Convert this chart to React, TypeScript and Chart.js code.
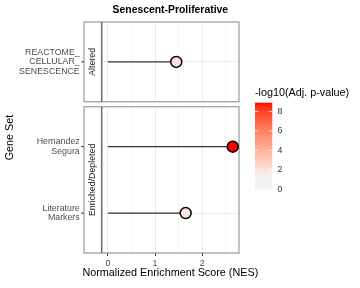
import React, { useEffect, useRef } from 'react';
import { Chart, registerables } from 'chart.js';

Chart.register(...registerables);

// ---------------- data ----------------
const chartTitle = 'Senescent-Proliferative';
const geneSets = ['REACTOME_CELLULAR_SENESCENCE', 'Hernandez Segura', 'Literature Markers'];
const geneSetLines = [['REACTOME_', 'CELLULAR_', 'SENESCENCE'], ['Hernandez', 'Segura'], ['Literature', 'Markers']];
const geneSetGroups = ['Altered', 'Enriched/Depleted', 'Enriched/Depleted'];
const nesValues = [1.45, 2.65, 1.65];
const negLog10AdjP = [2.0, 8.9, 1.8];
const xMajorTicks = [0, 1, 2];
const xMinorTicks = [0.5, 1.5, 2.5];
const legendTicks = [0, 2, 4, 6, 8];
const legendLimits = [0, 8.9];
const xTitle = 'Normalized Enrichment Score (NES)';
const yTitle = 'Gene Set';
const legendTitle = '-log10(Adj. p-value)';

// ---------------- scale settings ----------------
const FONT = '"Liberation Sans", Arial, Helvetica, sans-serif';
const COLOR_LOW = '#F2F2F2';
const COLOR_HIGH = '#FF0000';
const COLOR_MID_VALUE = 1.3;
const PANEL_GAP = 0.075;
const DISCRETE_EXPAND = 0.6;

// colour helpers (Lab interpolation like ggplot)
function hexToRgb(h: string) {
  const n = parseInt(h.slice(1), 16);
  return [(n >> 16) & 255, (n >> 8) & 255, n & 255];
}
function toLin(c: number) {
  c /= 255;
  return c <= 0.04045 ? c / 12.92 : Math.pow((c + 0.055) / 1.055, 2.4);
}
function fromLin(c: number) {
  const v = c <= 0.0031308 ? 12.92 * c : 1.055 * Math.pow(Math.max(c, 0), 1 / 2.4) - 0.055;
  return Math.round(Math.max(0, Math.min(1, v)) * 255);
}
function rgbToLab(rgb: number[]) {
  const R = toLin(rgb[0]), G = toLin(rgb[1]), B = toLin(rgb[2]);
  const X = (0.4124 * R + 0.3576 * G + 0.1805 * B) / 0.95047;
  const Y = 0.2126 * R + 0.7152 * G + 0.0722 * B;
  const Z = (0.0193 * R + 0.1192 * G + 0.9505 * B) / 1.08883;
  const f = (t: number) => (t > 0.008856 ? Math.cbrt(t) : 7.787 * t + 16 / 116);
  const fx = f(X), fy = f(Y), fz = f(Z);
  return [116 * fy - 16, 500 * (fx - fy), 200 * (fy - fz)];
}
function labToRgb(lab: number[]) {
  const fy = (lab[0] + 16) / 116, fx = fy + lab[1] / 500, fz = fy - lab[2] / 200;
  const inv = (t: number) => (t * t * t > 0.008856 ? t * t * t : (t - 16 / 116) / 7.787);
  const X = inv(fx) * 0.95047, Y = inv(fy), Z = inv(fz) * 1.08883;
  const R = 3.2406 * X - 1.5372 * Y - 0.4986 * Z;
  const G = -0.9689 * X + 1.8758 * Y + 0.0415 * Z;
  const B = 0.0557 * X - 0.204 * Y + 1.057 * Z;
  return [fromLin(R), fromLin(G), fromLin(B)];
}
const LAB_LOW = rgbToLab(hexToRgb(COLOR_LOW));
const LAB_HIGH = rgbToLab(hexToRgb(COLOR_HIGH));
function colorFor(v: number) {
  const t = Math.max(0, Math.min(1, (v - COLOR_MID_VALUE) / (legendLimits[1] - COLOR_MID_VALUE)));
  const lab = LAB_LOW.map((l, i) => l + (LAB_HIGH[i] - l) * t);
  const c = labToRgb(lab);
  return `rgb(${c[0]},${c[1]},${c[2]})`;
}

// ---------------- facet layout (in data units) ----------------
const groupsOrdered = geneSetGroups.filter((g, i, a) => a.indexOf(g) === i);
const panelSizes = groupsOrdered.map(
  (g) => geneSetGroups.filter((x) => x === g).length - 1 + 2 * DISCRETE_EXPAND
);
const yMax = panelSizes.reduce((a, b) => a + b, 0) + PANEL_GAP * (groupsOrdered.length - 1);
const yPos: number[] = new Array(geneSets.length).fill(0);
const panels: { group: string; top: number; bottom: number }[] = [];
{
  let cursor = yMax;
  groupsOrdered.forEach((g, p) => {
    const top = cursor;
    const bottom = top - panelSizes[p];
    let k = 0;
    geneSetGroups.forEach((gg, i) => {
      if (gg === g) {
        yPos[i] = top - DISCRETE_EXPAND - k;
        k++;
      }
    });
    panels.push({ group: g, top, bottom });
    cursor = bottom - PANEL_GAP;
  });
}
const xLo = Math.min(0, ...nesValues);
const xHi = Math.max(0, ...nesValues);
const xPad = (xHi - xLo) * 0.05;
const xGrid = [...xMajorTicks, ...xMinorTicks].sort((a, b) => a - b);
const isMajor = (v: number) => xMajorTicks.some((m) => Math.abs(m - v) < 1e-9);

// ---------------- decorations plugin ----------------
const STRIP_W = 17.7;
const decor = {
  id: 'decor',
  beforeDatasetsDraw(chart: any) {
    const { ctx, chartArea: ca, scales } = chart;
    const y = scales.y;
    const stripLeft = ca.left - STRIP_W;
    ctx.save();
    for (let p = 0; p < panels.length - 1; p++) {
      const yb = y.getPixelForValue(panels[p].bottom);
      const yt = y.getPixelForValue(panels[p + 1].top);
      ctx.fillStyle = '#FFFFFF';
      ctx.fillRect(stripLeft - 2, yb, ca.right - stripLeft + 4, yt - yb);
    }
    panels.forEach((pn) => {
      const t = y.getPixelForValue(pn.top);
      const b = y.getPixelForValue(pn.bottom);
      ctx.strokeStyle = '#9A9A9A';
      ctx.lineWidth = 1.2;
      ctx.strokeRect(stripLeft, t, ca.right - stripLeft, b - t);
      ctx.strokeStyle = '#707070';
      ctx.lineWidth = 1.6;
      ctx.beginPath();
      ctx.moveTo(ca.left, t);
      ctx.lineTo(ca.left, b);
      ctx.stroke();
      ctx.save();
      ctx.translate((stripLeft + ca.left) / 2, (t + b) / 2);
      ctx.rotate(-Math.PI / 2);
      ctx.font = `8.8px ${FONT}`;
      ctx.fillStyle = '#1A1A1A';
      ctx.textAlign = 'center';
      ctx.textBaseline = 'middle';
      ctx.fillText(pn.group, 0, 0);
      ctx.restore();
    });
    ctx.strokeStyle = '#333333';
    ctx.lineWidth = 1;
    yPos.forEach((v) => {
      const py = y.getPixelForValue(v);
      ctx.beginPath();
      ctx.moveTo(stripLeft - 2.8, py);
      ctx.lineTo(stripLeft, py);
      ctx.stroke();
    });
    ctx.restore();
  },
  afterDraw(chart: any) {
    const { ctx, chartArea: ca } = chart;
    ctx.save();
    // plot title
    ctx.font = `bold 10.4px ${FONT}`;
    ctx.fillStyle = '#000000';
    ctx.textAlign = 'center';
    ctx.textBaseline = 'middle';
    ctx.fillText(chartTitle, (ca.left + ca.right) / 2, 10);

    // x axis title (drawn here so it is not squeezed to the plot width)
    ctx.font = `10.8px ${FONT}`;
    ctx.fillText(xTitle, (ca.left + ca.right) / 2, ca.bottom + 20.5);

    // colour bar legend
    const lx = ca.right + 16;
    const lw = 17.3;
    const ltop = 102.7;
    const lbot = 189.3;
    const [lo, hi] = legendLimits;
    const vy = (v: number) => lbot - ((v - lo) / (hi - lo)) * (lbot - ltop);
    const grad = ctx.createLinearGradient(0, lbot, 0, ltop);
    const N = 60;
    for (let i = 0; i <= N; i++) {
      grad.addColorStop(i / N, colorFor(lo + (i / N) * (hi - lo)));
    }
    ctx.fillStyle = grad;
    ctx.fillRect(lx, ltop, lw, lbot - ltop);
    ctx.strokeStyle = 'rgba(255,255,255,0.9)';
    ctx.lineWidth = 0.8;
    legendTicks.forEach((t) => {
      const py = vy(t);
      ctx.beginPath();
      ctx.moveTo(lx, py);
      ctx.lineTo(lx + 3.5, py);
      ctx.moveTo(lx + lw - 3.5, py);
      ctx.lineTo(lx + lw, py);
      ctx.stroke();
    });
    ctx.font = `8.8px ${FONT}`;
    ctx.fillStyle = '#333333';
    ctx.textAlign = 'left';
    ctx.textBaseline = 'middle';
    legendTicks.forEach((t) => ctx.fillText(String(t), lx + lw + 5.3, vy(t)));
    ctx.font = `10.8px ${FONT}`;
    ctx.fillStyle = '#000000';
    ctx.fillText(legendTitle, lx, 93.5);
    ctx.restore();
  },
};

export default function App() {
  const ref = useRef<HTMLCanvasElement | null>(null);
  useEffect(() => {
    if (!ref.current) return;
    const segmentSets = geneSets.map((name, i) => ({
      type: 'line' as const,
      label: name,
      data: [
        { x: 0, y: yPos[i] },
        { x: nesValues[i], y: yPos[i] },
      ],
      borderColor: '#333333',
      borderWidth: 1.3,
      pointRadius: 0,
      clip: false as any,
      order: 2,
    }));
    const chart = new Chart(ref.current, {
      type: 'scatter',
      data: {
        datasets: [
          ...segmentSets,
          {
            type: 'scatter' as const,
            label: 'NES',
            data: nesValues.map((v, i) => ({ x: v, y: yPos[i] })),
            pointBackgroundColor: negLog10AdjP.map(colorFor),
            pointBorderColor: '#000000',
            pointBorderWidth: 1.5,
            pointRadius: 5.5,
            clip: false as any,
            order: 1,
          },
        ] as any,
      },
      options: {
        animation: false,
        responsive: false,
        devicePixelRatio: 1,
        layout: { padding: { left: 0, right: 121, top: 22, bottom: 0 } },
        plugins: { legend: { display: false }, tooltip: { enabled: false }, title: { display: false } },
        scales: {
          x: {
            type: 'linear',
            min: xLo - xPad,
            max: xHi + xPad,
            afterBuildTicks: (s: any) => {
              s.ticks = xGrid.map((v) => ({ value: v }));
            },
            afterFit: (s: any) => {
              s.height = 35;
              s.paddingLeft = 0;
              s.paddingRight = 0;
            },
            ticks: {
              autoSkip: false,
              maxRotation: 0,
              padding: 2,
              color: '#4D4D4D',
              font: { family: FONT, size: 8.8 },
              callback: (v: any) => (isMajor(Number(v)) ? String(v) : ''),
            },
            grid: {
              color: (c: any) => (isMajor(c.tick.value) ? '#EBEBEB' : '#F5F5F5'),
              tickColor: (c: any) => (isMajor(c.tick.value) ? '#333333' : 'rgba(0,0,0,0)'),
              lineWidth: 1,
              tickWidth: 1,
              tickLength: 3,
            },
            border: { display: false },
            title: { display: false },
          },
          y: {
            type: 'linear',
            min: 0,
            max: yMax,
            afterBuildTicks: (s: any) => {
              s.ticks = yPos.map((v) => ({ value: v }));
            },
            afterFit: (s: any) => {
              s.width = 101.7;
              s.paddingTop = 0;
              s.paddingBottom = 0;
            },
            ticks: {
              autoSkip: false,
              padding: 22,
              color: '#4D4D4D',
              font: { family: FONT, size: 8.8, lineHeight: 1.1 },
              callback: (v: any) => {
                const i = yPos.findIndex((p) => Math.abs(p - Number(v)) < 1e-6);
                return i >= 0 ? geneSetLines[i] : '';
              },
            },
            grid: { color: '#EBEBEB', lineWidth: 1, drawTicks: false },
            border: { display: false },
            title: {
              display: true,
              text: yTitle,
              color: '#000000',
              font: { family: FONT, size: 10.8 },
              padding: { top: 3.4, bottom: 0 },
            },
          },
        },
      } as any,
      plugins: [decor],
    });
    return () => chart.destroy();
  }, []);
  return (
    <div style={{ position: 'fixed', left: 0, top: 0, width: 360, height: 288, background: '#fff' }}>
      <canvas ref={ref} width={360} height={288} />
    </div>
  );
}
